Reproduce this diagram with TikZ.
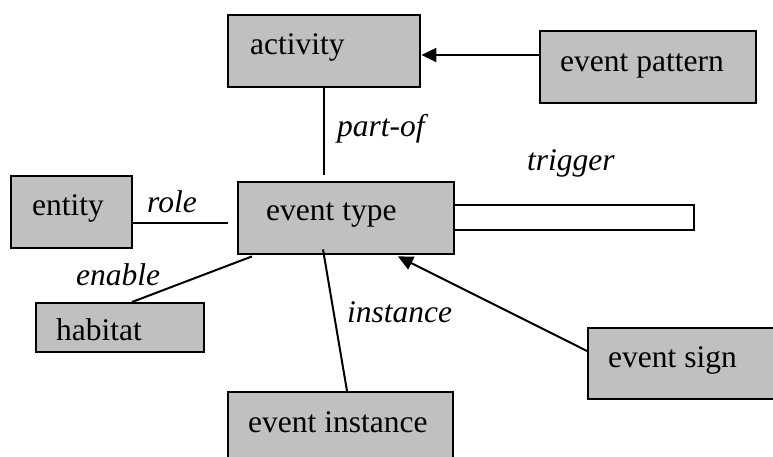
\documentclass[tikz,border=0pt]{standalone}
\usepackage{fontspec}
\setmainfont{Liberation Serif}
\newfontfamily\tnr{Liberation Serif}
\usetikzlibrary{arrows.meta,calc}
\definecolor{boxgray}{HTML}{C0C0C0}
\begin{document}
\begin{tikzpicture}[x=1pt,y=-1pt,
  box/.style={draw=black,fill=boxgray,line width=2.4pt,inner sep=0pt,anchor=north west},
  txt/.style={anchor=base west,inner sep=0pt,font=\tnr\fontsize{31.5}{36}\selectfont},
  lbl/.style={anchor=base west,inner sep=0pt,font=\tnr\fontsize{31.5}{36}\selectfont\itshape},
  conn/.style={line width=2pt},
  arr/.style={line width=2pt,-{Triangle[length=15pt,width=14pt]}}]
\useasboundingbox (0,0) rectangle (773,457);
\clip (0,0) rectangle (773,457);

% boxes
\node[box,minimum width=192pt,minimum height=72pt] (activity) at (227,14) {};
\node[box,minimum width=216pt,minimum height=72pt] (pattern) at (539,30) {};
\node[box,minimum width=216pt,minimum height=72pt] (etype) at (237,181) {};
\node[box,fill=white,minimum width=240pt,minimum height=25pt] (trigger) at (453,204) {};
\node[box,minimum width=121pt,minimum height=72pt] (entity) at (10,175) {};
\node[box,minimum width=168pt,minimum height=49pt] (habitat) at (35,302) {};
\node[box,minimum width=225pt,minimum height=80pt] (instance) at (227,391) {};
\node[box,minimum width=203pt,minimum height=71pt] (sign) at (587,327) {};

% box texts
\node[txt] (activityT) at ($(activity.north west)+(23,41)$) {activity};
\node[txt] (patternT) at ($(pattern.north west)+(21,42)$) {event pattern};
\node[txt] (etypeT) at ($(etype.north west)+(29,39)$) {event type};
\node[txt] (entityT) at ($(entity.north west)+(22,40)$) {entity};
\node[txt] (habitatT) at ($(habitat.north west)+(21,38)$) {habitat};
\node[txt] (instanceT) at ($(instance.north west)+(21,41)$) {event instance};
\node[txt] (signT) at ($(sign.north west)+(21,40)$) {event sign};

% connectors
\coordinate (pa) at ($(pattern.north west)+(0,25)$);
\draw[arr] (pa) -- (pa -| activity.east);

\coordinate (po) at ($(etype.north -| activity.south)+(0,-6)$);
\draw[conn] (activity.south) -- (po);

\coordinate (ro) at ($(entity.east)+(0,11)$);
\coordinate (roE) at ($(etype.west |- ro)+(-9,0)$);
\draw[conn] (ro) -- (roE);

\coordinate (en1) at ($(etype.south west)+(15,1)$);
\coordinate (en2) at ($(habitat.north west)+(97,0)$);
\draw[conn] (en1) -- (en2);

\coordinate (in1) at ($(etype.south west)+(86,-6)$);
\coordinate (in2) at ($(instance.north west)+(120,0)$);
\draw[conn] (in1) -- (in2);

\coordinate (sg1) at ($(sign.north west)+(0,24)$);
\coordinate (sg2) at ($(etype.south west)+(161,1)$);
\draw[arr] (sg1) -- (sg2);

% connector labels
\node[lbl] (partofL) at (337,137) {part-of};
\node[lbl] (triggerL) at (527,171) {trigger};
\node[lbl] (roleL) at (147,212) {role};
\node[lbl] (enableL) at (76,285) {enable};
\node[lbl] (instanceL) at (347,322) {instance};
\end{tikzpicture}
\end{document}
